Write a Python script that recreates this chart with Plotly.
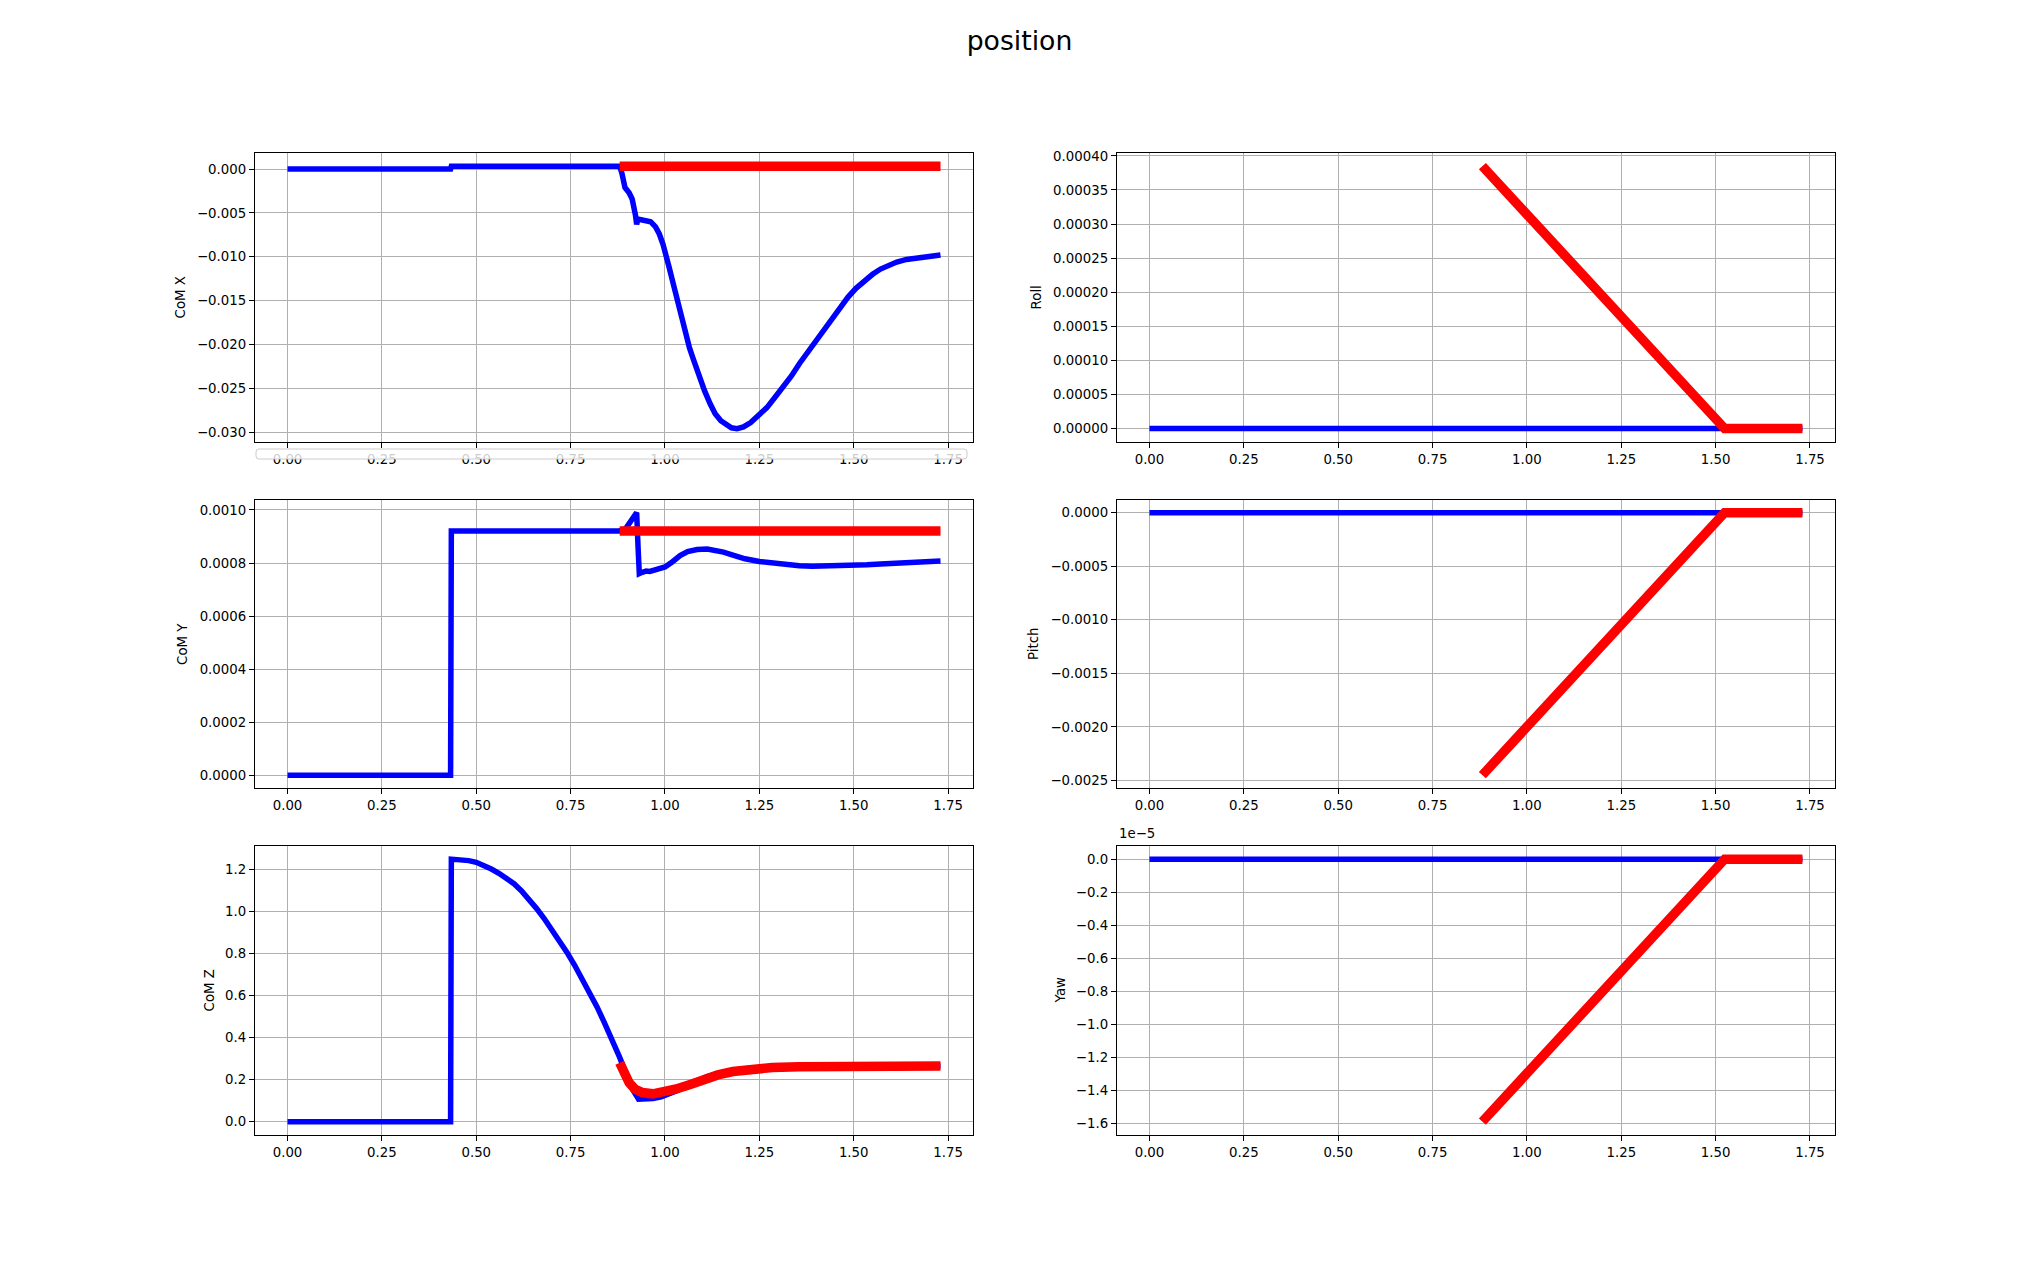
import plotly.graph_objects as go
from plotly.subplots import make_subplots

W, H = 2039, 1275

# ---------------- data ----------------
comx_t = [0.0, 0.432, 0.434, 0.880, 0.886, 0.894, 0.905, 0.913, 0.922, 0.925, 0.928, 0.945, 0.962,
          0.975, 0.985, 0.995, 1.000, 1.011, 1.022, 1.033, 1.044, 1.054, 1.065, 1.076, 1.090, 1.105,
          1.120, 1.133, 1.148, 1.162, 1.176, 1.191, 1.208, 1.227, 1.248, 1.270, 1.290, 1.313, 1.335,
          1.356, 1.378, 1.399, 1.420, 1.442, 1.463, 1.485, 1.506, 1.528, 1.550, 1.571, 1.592, 1.614,
          1.640, 1.671, 1.700, 1.730]
comx_v = [0.0, 0.0, 0.00034, 0.00034, -0.0005, -0.0021, -0.0027, -0.0034, -0.0053, -0.0063, -0.0057,
          -0.0058, -0.0060, -0.0066, -0.0074, -0.0086, -0.0093, -0.0112, -0.0131, -0.0150, -0.0169,
          -0.0188, -0.0204, -0.0218, -0.0236, -0.0253, -0.0268, -0.0279, -0.0287, -0.0292, -0.0295,
          -0.0296, -0.0294, -0.0289, -0.0281, -0.0272, -0.0261, -0.0249, -0.0236, -0.0222, -0.0209,
          -0.0196, -0.0182, -0.0169, -0.0157, -0.0146, -0.0136, -0.0127, -0.0120, -0.0114, -0.0110,
          -0.0106, -0.0103, -0.0101, -0.0099, -0.0098]
comx_ref_t = [0.880, 1.730]
comx_ref_v = [0.00034, 0.00034]

comy_t = [0.0, 0.432, 0.434, 0.880, 0.896, 0.910, 0.925, 0.929, 0.932, 0.940, 0.950, 0.960, 0.970,
          0.985, 1.000, 1.020, 1.040, 1.060, 1.085, 1.112, 1.135, 1.155, 1.180, 1.212, 1.250, 1.284,
          1.320, 1.356, 1.390, 1.427, 1.460, 1.499, 1.535, 1.571, 1.610, 1.643, 1.690, 1.730]
comy_v = [0.0, 0.0, 0.000921, 0.000921, 0.00093, 0.00096, 0.00099, 0.00085, 0.00076, 0.000765,
          0.000770, 0.000768, 0.000772, 0.000775, 0.000785, 0.000805, 0.000828, 0.000843, 0.000851,
          0.000853, 0.000848, 0.000841, 0.000830, 0.000816, 0.000806, 0.000800, 0.000794, 0.000790,
          0.000788, 0.000788, 0.000789, 0.000790, 0.000793, 0.000796, 0.000798, 0.000800, 0.000804,
          0.000808]
comy_ref_t = [0.880, 1.730]
comy_ref_v = [0.000921, 0.000921]

comz_t = [0.0, 0.432, 0.434, 0.460, 0.480, 0.500, 0.520, 0.540, 0.560, 0.580, 0.600, 0.620, 0.640,
          0.660, 0.680, 0.700, 0.720, 0.740, 0.760, 0.780, 0.800, 0.820, 0.840, 0.860, 0.880, 0.900,
          0.915, 0.930, 0.950, 0.968, 0.990, 1.011, 1.030, 1.054, 1.080, 1.112, 1.150, 1.184, 1.220,
          1.255, 1.300, 1.356, 1.450, 1.730]
comz_v = [0.0, 0.0, 1.247, 1.245, 1.240, 1.232, 1.218, 1.200, 1.180, 1.157, 1.130, 1.096, 1.056,
          1.012, 0.965, 0.915, 0.862, 0.805, 0.745, 0.682, 0.615, 0.545, 0.468, 0.390, 0.305, 0.215,
          0.150, 0.107, 0.106, 0.110, 0.118, 0.130, 0.145, 0.168, 0.190, 0.214, 0.232, 0.245, 0.252,
          0.256, 0.260, 0.263, 0.264, 0.264]
comz_ref_t = [0.880, 0.890, 0.905, 0.920, 0.940, 0.968, 1.000, 1.030, 1.069, 1.100, 1.140, 1.180,
              1.212, 1.250, 1.284, 1.356, 1.500, 1.730]
comz_ref_v = [0.280, 0.235, 0.185, 0.155, 0.138, 0.132, 0.140, 0.155, 0.178, 0.200, 0.222, 0.238,
              0.247, 0.253, 0.257, 0.261, 0.263, 0.264]

ang_t = [0.0, 1.730]
roll_v = [0.0, 0.0]
pitch_v = [0.0, 0.0]
yaw_v = [0.0, 0.0]
ang_ref_t = [0.882, 1.524, 1.730]
roll_ref_v = [0.000385, 0.0, 0.0]
pitch_ref_v = [-0.00245, 0.0, 0.0]
yaw_ref_v = [-1.59e-5, 0.0, 0.0]

x_ticks = [0.0, 0.25, 0.5, 0.75, 1.0, 1.25, 1.5, 1.75]
x_ticktext = ["0.00", "0.25", "0.50", "0.75", "1.00", "1.25", "1.50", "1.75"]

comx_ticks = [0.0, -0.005, -0.010, -0.015, -0.020, -0.025, -0.030]
comx_ticktext = ["0.000", "\u22120.005", "\u22120.010", "\u22120.015", "\u22120.020", "\u22120.025", "\u22120.030"]
comy_ticks = [0.0, 0.0002, 0.0004, 0.0006, 0.0008, 0.0010]
comy_ticktext = ["0.0000", "0.0002", "0.0004", "0.0006", "0.0008", "0.0010"]
comz_ticks = [0.0, 0.2, 0.4, 0.6, 0.8, 1.0, 1.2]
comz_ticktext = ["0.0", "0.2", "0.4", "0.6", "0.8", "1.0", "1.2"]
roll_ticks = [0.0, 0.00005, 0.0001, 0.00015, 0.0002, 0.00025, 0.0003, 0.00035, 0.0004]
roll_ticktext = ["0.00000", "0.00005", "0.00010", "0.00015", "0.00020", "0.00025", "0.00030", "0.00035", "0.00040"]
pitch_ticks = [0.0, -0.0005, -0.001, -0.0015, -0.002, -0.0025]
pitch_ticktext = ["0.0000", "\u22120.0005", "\u22120.0010", "\u22120.0015", "\u22120.0020", "\u22120.0025"]
yaw_ticks = [0.0, -0.2e-5, -0.4e-5, -0.6e-5, -0.8e-5, -1.0e-5, -1.2e-5, -1.4e-5, -1.6e-5]
yaw_ticktext = ["0.0", "\u22120.2", "\u22120.4", "\u22120.6", "\u22120.8", "\u22121.0", "\u22121.2", "\u22121.4", "\u22121.6"]

ylabels = ["CoM X", "CoM Y", "CoM Z", "Roll", "Pitch", "Yaw"]
title_text = "position"

# ---------------- figure ----------------
fig = make_subplots(rows=3, cols=2)

BLUE = "#0000ff"
RED = "#ff0000"
BW = 5.5
RW = 9.5

panels = [
    (1, 1, comx_t, comx_v, comx_ref_t, comx_ref_v, comx_ticks, comx_ticktext),
    (2, 1, comy_t, comy_v, comy_ref_t, comy_ref_v, comy_ticks, comy_ticktext),
    (3, 1, comz_t, comz_v, comz_ref_t, comz_ref_v, comz_ticks, comz_ticktext),
    (1, 2, ang_t, roll_v, ang_ref_t, roll_ref_v, roll_ticks, roll_ticktext),
    (2, 2, ang_t, pitch_v, ang_ref_t, pitch_ref_v, pitch_ticks, pitch_ticktext),
    (3, 2, ang_t, yaw_v, ang_ref_t, yaw_ref_v, yaw_ticks, yaw_ticktext),
]

# matplotlib default subplot geometry
left, right, bottom, top = 0.125, 0.9, 0.11, 0.88
cw = (right - left) / 2.2
rh = (top - bottom) / 3.4
col_dom = {1: [left, left + cw], 2: [right - cw, right]}
row_dom = {1: [top - rh, top], 2: [top - 2.2 * rh, top - 1.2 * rh], 3: [bottom, bottom + rh]}

tickfont = dict(family="DejaVu Sans", size=13.3, color="black")
axis_common = dict(showline=True, mirror=True, linecolor="black", linewidth=1.07,
                   ticks="outside", ticklen=5, tickwidth=1.07, tickcolor="black",
                   showgrid=True, gridcolor="#b0b0b0", gridwidth=1.07, zeroline=False,
                   tickfont=tickfont, automargin=False)

all_x = comx_t + comy_t + comz_t + ang_t
xmin, xmax = min(all_x), max(all_x)
xpad = 0.05 * (xmax - xmin)

for (r, c, t, v, rt, rv, yt, ytt) in panels:
    fig.add_trace(go.Scatter(x=t, y=v, mode="lines", line=dict(color=BLUE, width=BW),
                             showlegend=False, hoverinfo="skip"), row=r, col=c)
    fig.add_trace(go.Scatter(x=rt, y=rv, mode="lines", line=dict(color=RED, width=RW),
                             showlegend=False, hoverinfo="skip"), row=r, col=c)
    lo = min(v + rv)
    hi = max(v + rv)
    pad = 0.05 * (hi - lo)
    fig.update_xaxes(domain=col_dom[c], range=[xmin - xpad, xmax + xpad],
                     tickvals=x_ticks, ticktext=x_ticktext, **axis_common, row=r, col=c)
    fig.update_yaxes(domain=row_dom[r], range=[lo - pad, hi + pad],
                     tickvals=yt, ticktext=ytt, **axis_common, row=r, col=c)

# y-axis labels (positioned like matplotlib)
label_x_px = {"CoM X": 180, "CoM Y": 183, "CoM Z": 209, "Roll": 1036, "Pitch": 1034, "Yaw": 1060}
label_pos = [(1, "CoM X"), (2, "CoM Y"), (3, "CoM Z"), (1, "Roll"), (2, "Pitch"), (3, "Yaw")]
annotations = []
for r, name in label_pos:
    annotations.append(dict(text=name, x=label_x_px[name] / W, y=sum(row_dom[r]) / 2,
                            xref="paper", yref="paper", xanchor="center", yanchor="middle",
                            textangle=-90, showarrow=False,
                            font=dict(family="DejaVu Sans", size=13.3, color="black")))
# offset text for yaw axis
annotations.append(dict(text="1e\u22125", x=col_dom[2][0], y=row_dom[3][1] + 3 / H,
                        xref="paper", yref="paper", xanchor="left", yanchor="bottom",
                        showarrow=False, font=dict(family="DejaVu Sans", size=13.3, color="black")))

# faint empty legend frame overlapping the first panel's x tick labels
x0, x1 = 256 / W, 967 / W
y0, y1 = 1 - 459 / H, 1 - 449 / H
rx, ry = 3 / W, 3 / H
path = (f"M {x0+rx},{y1} L {x1-rx},{y1} Q {x1},{y1} {x1},{y1-ry} L {x1},{y0+ry} "
        f"Q {x1},{y0} {x1-rx},{y0} L {x0+rx},{y0} Q {x0},{y0} {x0},{y0+ry} "
        f"L {x0},{y1-ry} Q {x0},{y1} {x0+rx},{y1} Z")

fig.update_layout(
    width=W, height=H,
    margin=dict(l=0, r=0, t=0, b=0, autoexpand=False),
    paper_bgcolor="white", plot_bgcolor="white",
    title=dict(text=title_text, x=0.5, xanchor="center", y=1 - 41 / H, yanchor="middle",
               font=dict(family="DejaVu Sans", size=26.7, color="black"), automargin=False),
    annotations=annotations,
    shapes=[dict(type="path", path=path, xref="paper", yref="paper", layer="above",
                 fillcolor="rgba(255,255,255,0.8)", line=dict(color="#cccccc", width=1))],
    showlegend=False,
)

fig.write_html("out.html", config={"displayModeBar": False},
               post_script="document.body.style.margin='0';")
